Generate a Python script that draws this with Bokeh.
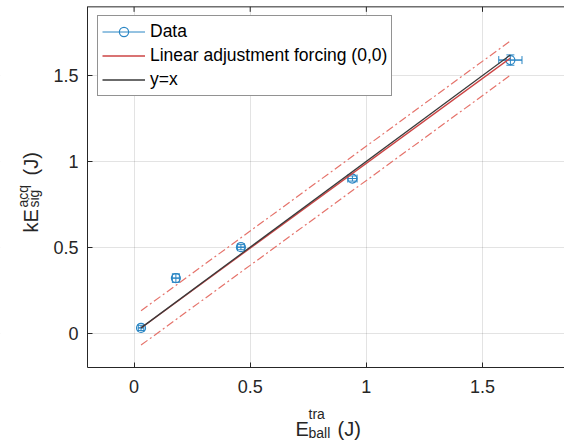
import numpy as np
from bokeh.plotting import figure
from bokeh.models import (ColumnDataSource, FixedTicker, Label, Legend, LegendItem,
                          Range1d, Whisker, TeeHead, BoxAnnotation)
from bokeh.embed import file_html
from bokeh.resources import INLINE

# ---- data ----
x_vals = [0.03, 0.18, 0.46, 0.94, 1.62]
y_vals = [0.03, 0.32, 0.50, 0.90, 1.59]
x_err = [0.012, 0.015, 0.015, 0.02, 0.05]
y_err = [0.015, 0.025, 0.015, 0.015, 0.03]
band = 0.1
ticks = [0, 0.5, 1, 1.5]
tick_labels = ["0", "0.5", "1", "1.5"]
legend_labels = ["Data", "Linear adjustment forcing (0,0)", "y=x"]

# axes box limits and full visible (canvas) window in data units
X_LIM = (-0.2, 1.853)
Y_LIM = (-0.2, 1.9)
X_VIEW = (-0.575, 1.853)
Y_VIEW = (-0.626, 1.937)

# ---- styling / layout ----
W, H = 564, 440
BLUE = "#2a86c4"
RED = "#cc4444"
BAND_RED = "#e5736b"
DARK = "#3a3a3a"
AX = "#262626"
FONT = "Liberation Sans"
TICK_PX = 5

xa = np.array(x_vals)
ya = np.array(y_vals)
slope = float((xa * ya).sum() / (xa * xa).sum())
line_x = np.array([x_vals[0], x_vals[-1]])

src = ColumnDataSource(dict(
    x=x_vals, y=y_vals,
    xl=list(xa - np.array(x_err)), xu=list(xa + np.array(x_err)),
    yl=list(ya - np.array(y_err)), yu=list(ya + np.array(y_err)),
))

p = figure(width=W, height=H, x_range=Range1d(*X_VIEW), y_range=Range1d(*Y_VIEW),
           output_backend="svg", toolbar_location=None, title=None,
           min_border_left=0, min_border_right=0, min_border_top=0, min_border_bottom=0,
           outline_line_color=None, background_fill_color="white",
           border_fill_color="white")

xax = p.xaxis[0]
yax = p.yaxis[0]
xax.fixed_location = Y_LIM[0]
xax.bounds = X_LIM
yax.fixed_location = X_LIM[0]
yax.bounds = Y_LIM

for ax in (xax, yax):
    ax.ticker = FixedTicker(ticks=ticks)
    ax.major_label_overrides = {t: l for t, l in zip(ticks, tick_labels)}
    ax.axis_line_color = AX
    ax.axis_line_width = 1
    ax.major_tick_line_color = AX
    ax.major_tick_in = TICK_PX
    ax.major_tick_out = 0
    ax.minor_tick_line_color = None
    ax.major_label_text_font = FONT
    ax.major_label_text_font_size = "18px"
    ax.major_label_text_color = AX
xax.major_label_standoff = 13
yax.major_label_standoff = 9

p.grid.grid_line_color = AX
p.grid.grid_line_alpha = 0.13

# hide grid outside the axes box
for kw in (dict(right=X_LIM[0]), dict(top=Y_LIM[0]), dict(bottom=Y_LIM[1])):
    p.add_layout(BoxAnnotation(fill_color="white", fill_alpha=1, line_color=None,
                               level="underlay", **kw))

# top edge of the box with inward ticks
px_per_y = H / (Y_VIEW[1] - Y_VIEW[0])
p.line([X_LIM[0], X_LIM[1]], [Y_LIM[1], Y_LIM[1]], line_color=AX, line_width=1)
p.segment(x0=ticks, x1=ticks, y0=[Y_LIM[1]] * len(ticks),
          y1=[Y_LIM[1] - TICK_PX / px_per_y] * len(ticks), line_color=AX, line_width=1)

# error bars
hseg = p.segment(x0="xl", x1="xu", y0="y", y1="y", source=src, line_color=BLUE, line_width=1)
p.add_layout(Whisker(source=src, base="y", lower="xl", upper="xu", dimension="width",
                     line_color=BLUE, line_width=1,
                     lower_head=TeeHead(size=8, line_color=BLUE),
                     upper_head=TeeHead(size=8, line_color=BLUE)))
p.add_layout(Whisker(source=src, base="x", lower="yl", upper="yu", dimension="height",
                     line_color=BLUE, line_width=1,
                     lower_head=TeeHead(size=8, line_color=BLUE),
                     upper_head=TeeHead(size=8, line_color=BLUE)))
circ = p.scatter("x", "y", source=src, size=9, marker="circle",
                 line_color=BLUE, line_width=1.2, fill_color=None)

fit_r = p.line(line_x, slope * line_x, line_color=RED, line_width=1.3)
yx_r = p.line(line_x, line_x, line_color=DARK, line_width=1.3)
p.line(line_x, slope * line_x + band, line_color=BAND_RED, line_width=1.2, line_dash="8 3 2 3")
p.line(line_x, slope * line_x - band, line_color=BAND_RED, line_width=1.2, line_dash="8 3 2 3")

legend = Legend(items=[
    LegendItem(label=legend_labels[0], renderers=[hseg, circ]),
    LegendItem(label=legend_labels[1], renderers=[fit_r]),
    LegendItem(label=legend_labels[2], renderers=[yx_r]),
], location=(97, 344), margin=0, padding=4, spacing=1,
    glyph_width=43, glyph_height=23, label_height=23, label_standoff=5,
    label_text_font=FONT, label_text_font_size="17.5px", label_text_color="#000000",
    border_line_color=AX, border_line_width=1, background_fill_color="white",
    background_fill_alpha=1)
p.add_layout(legend)

# axis titles with super/subscripts (canvas px -> data coords)
def px_to_x(px):
    return X_VIEW[0] + px / W * (X_VIEW[1] - X_VIEW[0])

def py_to_y(py):
    return Y_VIEW[1] - py / H * (Y_VIEW[1] - Y_VIEW[0])

def lab(text, px, py, size, angle=0.0):
    p.add_layout(Label(x=px_to_x(px), y=py_to_y(py), text=text, text_font=FONT,
                       text_font_size=f"{size}px", text_color=AX, angle=angle,
                       text_align="left", text_baseline="alphabetic"))

# x label: E^tra_ball(J)
lab("E", 295, 428, 20)
lab("tra", 308, 413, 14)
lab("ball", 308, 432, 14)
lab("(J)", 337, 428, 20)
# y label: kE^acq_sig(J)
R = np.pi / 2
lab("kE", 30, 232, 20, R)
lab("acq", 22, 207, 14, R)
lab("sig", 33, 207, 14, R)
lab("(J)", 30, 175, 20, R)

open("out.html", "w").write(file_html(p, INLINE))
